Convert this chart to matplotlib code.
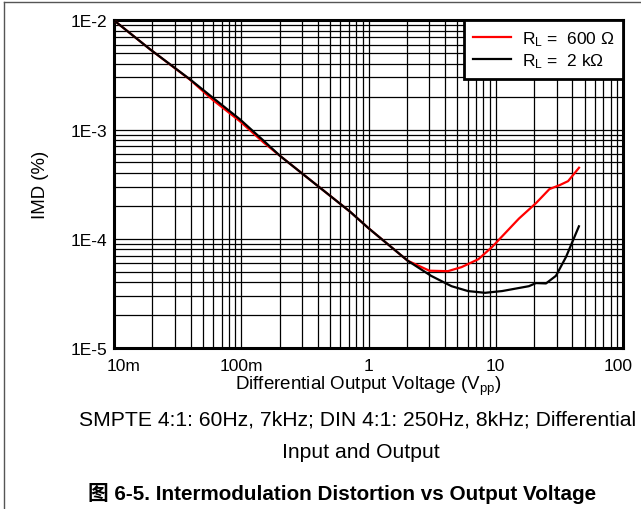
import matplotlib
matplotlib.use("Agg")
import matplotlib.pyplot as plt
from matplotlib.lines import Line2D
from matplotlib.transforms import ScaledTranslation
import numpy as np

plt.rcParams['font.family'] = ['Liberation Sans', 'Noto Sans CJK SC', 'DejaVu Sans']
plt.rcParams['mathtext.fontset'] = 'custom'
plt.rcParams['mathtext.rm'] = 'Liberation Sans'
plt.rcParams['mathtext.it'] = 'Liberation Sans:italic'

# Data (V_pp, IMD %)
v_600 = [0.01, 0.0192, 0.0396, 0.06, 0.0977, 0.15, 0.2018, 0.716, 1.0, 2.03, 3.01, 4.2, 5.38, 7.3, 9.34, 15.2, 20.7, 26.4, 31.8, 37.0, 45.1]
imd_600 = [1.0e-2, 5.43e-3, 2.86e-3, 1.86e-3, 1.19e-3, 7.6e-4, 5.74e-4, 1.77e-4, 1.25e-4, 6.3e-5, 5.1e-5, 5.05e-5, 5.5e-5, 6.5e-5, 8.4e-5, 1.53e-4, 2.12e-4, 2.85e-4, 3.1e-4, 3.37e-4, 4.47e-4]

v_2k = [0.01, 0.0192, 0.0396, 0.06, 0.0977, 0.15, 0.2018, 0.716, 1.0, 2.03, 3.1, 4.49, 6.05, 8.23, 11.2, 18.2, 20.7, 24.8, 29.7, 35.6, 45.0]
imd_2k = [1.0e-2, 5.43e-3, 2.88e-3, 1.95e-3, 1.24e-3, 7.9e-4, 5.74e-4, 1.77e-4, 1.25e-4, 6.3e-5, 4.58e-5, 3.68e-5, 3.32e-5, 3.2e-5, 3.32e-5, 3.68e-5, 3.93e-5, 3.9e-5, 4.58e-5, 6.8e-5, 1.30e-4]

x_ticks = [0.01, 0.1, 1, 10, 100]
x_labels = ['10m', '100m', '1', '10', '100']
y_ticks = [1e-5, 1e-4, 1e-3, 1e-2]
y_labels = ['1E-5', '1E-4', '1E-3', '1E-2']

fig = plt.figure(figsize=(6.41, 5.10), dpi=100)
ax = fig.add_axes([0.1778, 0.3157, 0.972 - 0.1778, 0.9582 - 0.3157])

ax.set_xscale('log')
ax.set_yscale('log')
ax.set_xlim(0.01, 100)
ax.set_ylim(1e-5, 1e-2)

ax.plot(v_600, imd_600, color='#ff0000', lw=1.6, label=r'R$_\mathrm{L}$ =  600 Ω', zorder=3)
ax.plot(v_2k, imd_2k, color='black', lw=1.6, label=r'R$_\mathrm{L}$ =  2 kΩ', zorder=4)

ax.set_xticks(x_ticks)
ax.set_xticklabels(x_labels)
ax.set_yticks(y_ticks)
ax.set_yticklabels(y_labels)
ax.xaxis.set_minor_locator(matplotlib.ticker.LogLocator(base=10, subs=np.arange(2, 10)))
ax.yaxis.set_minor_locator(matplotlib.ticker.LogLocator(base=10, subs=np.arange(2, 10)))
ax.xaxis.set_minor_formatter(matplotlib.ticker.NullFormatter())
ax.yaxis.set_minor_formatter(matplotlib.ticker.NullFormatter())
ax.tick_params(which='both', length=0, labelsize=12.5)
ax.tick_params(axis='x', pad=7)
ax.tick_params(axis='y', pad=5)
ax.grid(True, which='both', color='black', lw=0.9)
for s in ax.spines.values():
    s.set_linewidth(2.2)

xl = ax.get_xticklabels()
xl[0].set_transform(xl[0].get_transform() + ScaledTranslation(10 / 100, 0, fig.dpi_scale_trans))
xl[-1].set_transform(xl[-1].get_transform() + ScaledTranslation(-5 / 100, 0, fig.dpi_scale_trans))

ax.set_xlabel(r'Differential Output Voltage (V$_\mathrm{pp}$)', fontsize=13.5, labelpad=1)
ax.set_ylabel('IMD (%)', fontsize=13.4, labelpad=15)

leg = ax.legend(loc='upper right', borderaxespad=0, fontsize=12.5, fancybox=False,
                framealpha=1, edgecolor='black', handlelength=2.2, handletextpad=0.6,
                labelspacing=0.2, borderpad=0.5)
leg.get_frame().set_linewidth(2)

fig.text(0.558, 0.176, 'SMPTE 4:1: 60Hz, 7kHz; DIN 4:1: 250Hz, 8kHz; Differential',
         ha='center', va='center', fontsize=15.2)
fig.text(0.563, 0.113, 'Input and Output', ha='center', va='center', fontsize=15.2)
fig.text(0.534, 0.033, '图 6-5. Intermodulation Distortion vs Output Voltage',
         ha='center', va='center', fontsize=14.9, fontweight='bold')

fig.add_artist(Line2D([0.0055, 0.0055], [0, 0.994], transform=fig.transFigure, color='#555555', lw=1))
fig.add_artist(Line2D([0.0055, 1], [0.994, 0.994], transform=fig.transFigure, color='#555555', lw=1))

fig.savefig('out.png', dpi=100)
